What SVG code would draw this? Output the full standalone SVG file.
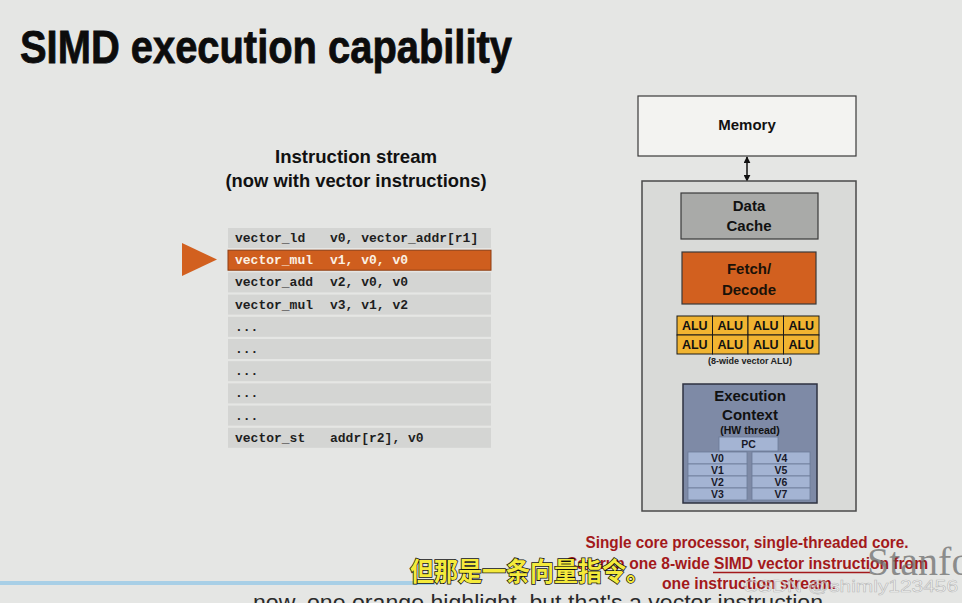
<svg xmlns="http://www.w3.org/2000/svg" width="962" height="603" viewBox="0 0 962 603">
<defs>
<style>
.bold{font-family:"Liberation Sans","Open Sans",Arial,sans-serif;font-weight:bold}
.mono{font-family:"Liberation Mono","DejaVu Sans Mono",monospace;font-weight:bold;font-size:13px;fill:#1e1e1e}
.row{fill:#d4d5d3}
.ctr{text-anchor:middle}
.box{stroke:#3a3a3a;stroke-width:1.2}
.alu{fill:#f1b431;stroke:#1a1a1a;stroke-width:1}
.alut{font-family:"Liberation Sans",Arial,sans-serif;font-weight:bold;font-size:12.5px;fill:#111;text-anchor:middle}
.reg{fill:#a4b4d3;stroke:#6c7a98;stroke-width:0.8}
.regt{font-family:"Liberation Sans",Arial,sans-serif;font-weight:bold;font-size:10.5px;fill:#1a1a2a;text-anchor:middle}
.red{font-family:"Liberation Sans",Arial,sans-serif;font-weight:bold;font-size:16px;fill:#a3191b;text-anchor:middle}
</style>
<marker id="ah" viewBox="0 0 10 10" refX="9" refY="5" markerWidth="7" markerHeight="7" orient="auto-start-reverse" markerUnits="userSpaceOnUse">
<path d="M0,0 L10,5 L0,10 z" fill="#111"/>
</marker>
</defs>
<rect width="962" height="603" fill="#e5e6e4"/>

<text class="bold" x="20" y="63" font-size="46" textLength="492" lengthAdjust="spacingAndGlyphs" fill="#0c0c0c" stroke="#0c0c0c" stroke-width="0.8">SIMD execution capability</text>

<g id="heading">
<text class="bold ctr" x="356" y="163" font-size="19" textLength="162" lengthAdjust="spacingAndGlyphs" fill="#111">Instruction stream</text>
<text class="bold ctr" x="356" y="187" font-size="19" textLength="261" lengthAdjust="spacingAndGlyphs" fill="#111">(now with vector instructions)</text>
</g>

<g id="instruction-stream">
<rect class="row" x="228" y="228" width="263" height="20"/>
<rect x="228" y="250.2" width="263" height="20" fill="#cf5e1e" stroke="#8d3d12" stroke-width="1"/>
<rect class="row" x="228" y="272.4" width="263" height="20"/>
<rect class="row" x="228" y="294.6" width="263" height="20"/>
<rect class="row" x="228" y="316.8" width="263" height="20"/>
<rect class="row" x="228" y="339" width="263" height="20"/>
<rect class="row" x="228" y="361.2" width="263" height="20"/>
<rect class="row" x="228" y="383.4" width="263" height="20"/>
<rect class="row" x="228" y="405.6" width="263" height="20"/>
<rect class="row" x="228" y="427.8" width="263" height="20"/>
<text class="mono" x="235" y="242">vector_ld</text><text class="mono" x="330" y="242">v0, vector_addr[r1]</text>
<text class="mono" x="235" y="264.2" style="fill:#fbf1e4">vector_mul</text><text class="mono" x="330" y="264.2" style="fill:#fbf1e4">v1, v0, v0</text>
<text class="mono" x="235" y="286.4">vector_add</text><text class="mono" x="330" y="286.4">v2, v0, v0</text>
<text class="mono" x="235" y="308.6">vector_mul</text><text class="mono" x="330" y="308.6">v3, v1, v2</text>
<text class="mono" x="235" y="330.8">...</text>
<text class="mono" x="235" y="353">...</text>
<text class="mono" x="235" y="375.2">...</text>
<text class="mono" x="235" y="397.4">...</text>
<text class="mono" x="235" y="419.6">...</text>
<text class="mono" x="235" y="441.8">vector_st</text><text class="mono" x="330" y="441.8">addr[r2], v0</text>
</g>

<g id="pointer">
<polygon points="182,243 217,259.5 182,276" fill="#d2601f"/>
</g>

<g id="memory">
<rect class="box" x="638" y="96" width="218" height="60" fill="#f3f3f1"/>
<text class="bold ctr" x="747" y="130" font-size="15" fill="#111">Memory</text>
</g>

<g id="connectors">
<line x1="747" y1="157" x2="747" y2="181" stroke="#111" stroke-width="1.5" marker-start="url(#ah)" marker-end="url(#ah)"/>
</g>

<g id="core">
<rect x="642" y="181" width="214" height="330" fill="#d9dad8" stroke="#4a4a4a" stroke-width="1.5"/>
</g>

<g id="data-cache">
<rect class="box" x="681" y="193" width="137" height="46" fill="#a9aaa8"/>
<text class="bold ctr" x="749" y="211" font-size="15" fill="#111">Data</text>
<text class="bold ctr" x="749" y="231" font-size="15" fill="#111">Cache</text>
</g>

<g id="fetch-decode">
<rect class="box" x="682" y="252" width="134" height="52" fill="#d2601f"/>
<text class="bold ctr" x="749" y="274" font-size="15" fill="#1a1208">Fetch/</text>
<text class="bold ctr" x="749" y="295" font-size="15" fill="#1a1208">Decode</text>
</g>

<g id="alus">
<rect class="alu" x="677" y="316" width="35.5" height="19"/>
<rect class="alu" x="712.5" y="316" width="35.5" height="19"/>
<rect class="alu" x="748" y="316" width="35.5" height="19"/>
<rect class="alu" x="783.5" y="316" width="35.5" height="19"/>
<rect class="alu" x="677" y="335" width="35.5" height="19"/>
<rect class="alu" x="712.5" y="335" width="35.5" height="19"/>
<rect class="alu" x="748" y="335" width="35.5" height="19"/>
<rect class="alu" x="783.5" y="335" width="35.5" height="19"/>
<text class="alut" x="694.75" y="330">ALU</text>
<text class="alut" x="730.25" y="330">ALU</text>
<text class="alut" x="765.75" y="330">ALU</text>
<text class="alut" x="801.25" y="330">ALU</text>
<text class="alut" x="694.75" y="349">ALU</text>
<text class="alut" x="730.25" y="349">ALU</text>
<text class="alut" x="765.75" y="349">ALU</text>
<text class="alut" x="801.25" y="349">ALU</text>
<text class="bold ctr" x="750" y="364" font-size="9" fill="#222">(8-wide vector ALU)</text>
</g>

<g id="execution-context">
<rect x="683" y="384" width="134" height="119" fill="#7e8aa6" stroke="#2e3240" stroke-width="1.5"/>
<text class="bold ctr" x="750" y="401" font-size="15" fill="#111">Execution</text>
<text class="bold ctr" x="750" y="420" font-size="15" fill="#111">Context</text>
<text class="bold ctr" x="750" y="434" font-size="10.5" fill="#111">(HW thread)</text>
<rect class="reg" x="719" y="437" width="59" height="14"/>
<text class="regt" x="748.5" y="448">PC</text>
<rect class="reg" x="688" y="452" width="59" height="12"/>
<rect class="reg" x="688" y="464" width="59" height="12"/>
<rect class="reg" x="688" y="476" width="59" height="12"/>
<rect class="reg" x="688" y="488" width="59" height="12"/>
<rect class="reg" x="752" y="452" width="58" height="12"/>
<rect class="reg" x="752" y="464" width="58" height="12"/>
<rect class="reg" x="752" y="476" width="58" height="12"/>
<rect class="reg" x="752" y="488" width="58" height="12"/>
<text class="regt" x="717.5" y="462">V0</text>
<text class="regt" x="717.5" y="474">V1</text>
<text class="regt" x="717.5" y="486">V2</text>
<text class="regt" x="717.5" y="498">V3</text>
<text class="regt" x="781" y="462">V4</text>
<text class="regt" x="781" y="474">V5</text>
<text class="regt" x="781" y="486">V6</text>
<text class="regt" x="781" y="498">V7</text>
</g>

<g id="caption">
<text class="red" x="747" y="548" textLength="323" lengthAdjust="spacingAndGlyphs">Single core processor, single-threaded core.</text>
<text class="red" x="747" y="569" textLength="362" lengthAdjust="spacingAndGlyphs">Can run one 8-wide SIMD vector instruction from</text>
<line x1="713" y1="572.5" x2="870" y2="572.5" stroke="#a3191b" stroke-width="1.3"/>
<text class="red" x="749" y="589" textLength="174" lengthAdjust="spacingAndGlyphs">one instruction stream.</text>
</g>

<g id="overlays">
<rect x="0" y="581" width="435" height="4" fill="#a8cfe6"/>
<text x="867" y="575" font-family="'Liberation Serif',serif" font-size="40" fill="#6e6e6e" fill-opacity="0.75">Stanford</text>
<text x="410" y="581" font-family="'Noto Sans CJK SC',sans-serif" font-weight="bold" font-size="26" fill="#f4ea3c" stroke="#111" stroke-width="1.6" paint-order="stroke" textLength="240" lengthAdjust="spacingAndGlyphs">但那是一条向量指令。</text>
<text x="743" y="592" font-family="'Liberation Sans',Arial,sans-serif" font-size="17" fill="#ffffff" fill-opacity="0.55" stroke="#888" stroke-opacity="0.5" stroke-width="0.6" textLength="215" lengthAdjust="spacingAndGlyphs">CSDN @shimly123456</text>
<text x="253" y="610" font-family="'Liberation Sans',Arial,sans-serif" font-size="22" fill="#2a2a2a" textLength="570" lengthAdjust="spacingAndGlyphs">now, one orange highlight, but that's a vector instruction</text>
</g>
</svg>
